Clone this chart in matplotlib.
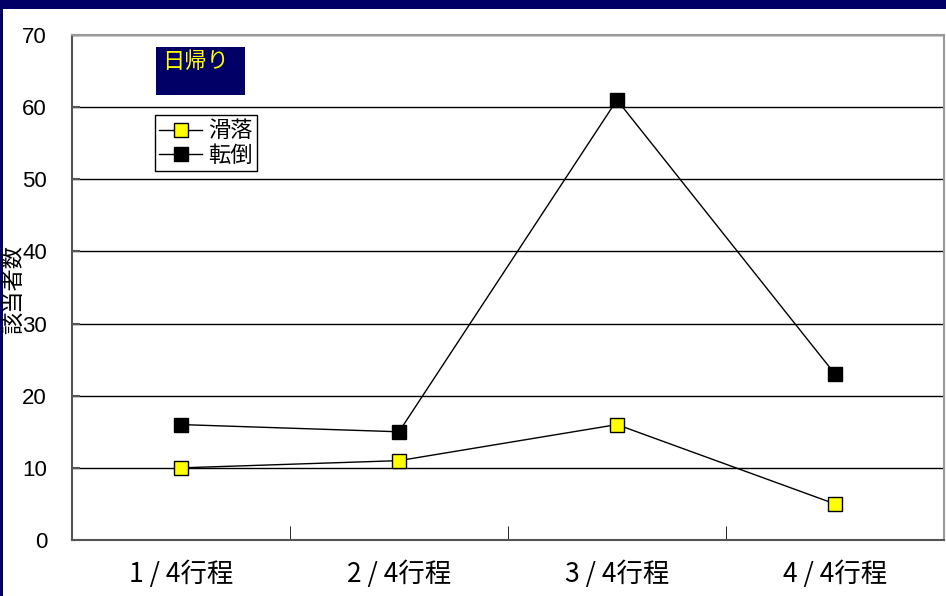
import matplotlib
matplotlib.use("Agg")
import matplotlib.pyplot as plt
from matplotlib.patches import Rectangle

plt.rcParams['font.family'] = ['Liberation Sans', 'Noto Sans CJK JP', 'DejaVu Sans']

categories = ["1 / 4行程", "2 / 4行程", "3 / 4行程", "4 / 4行程"]
slip = [10, 11, 16, 5]      # 滑落
fall = [16, 15, 61, 23]     # 転倒
y_ticks = [0, 10, 20, 30, 40, 50, 60, 70]

W, H = 946, 596
fig = plt.figure(figsize=(W / 100, H / 100), dpi=100)
fig.patch.set_facecolor("white")

# navy frame bands
navy = "#000066"
fig.patches.append(Rectangle((0, (H - 9) / H), 1, 9 / H, transform=fig.transFigure,
                             facecolor=navy, edgecolor="none", zorder=0))
fig.patches.append(Rectangle((0, 0), 3 / W, 1, transform=fig.transFigure,
                             facecolor=navy, edgecolor="none", zorder=0))

left, right, top, bottom = 72, 944, 35, 540
ax = fig.add_axes([left / W, (H - bottom) / H, (right - left) / W, (bottom - top) / H])

x = list(range(len(categories)))
ax.plot(x, fall, color="black", lw=1, marker="s", markersize=10,
        markerfacecolor="black", markeredgecolor="black", label="転倒", zorder=3)
ax.plot(x, slip, color="black", lw=1, marker="s", markersize=10,
        markerfacecolor="#FFFF00", markeredgecolor="black", label="滑落", zorder=3)

ax.set_xlim(-0.5, len(categories) - 0.5)
ax.set_ylim(0, 70)
ax.set_yticks(y_ticks)
ax.set_yticklabels([str(v) for v in y_ticks], fontsize=16)
ax.yaxis.grid(True, color="black", lw=1)
ax.set_axisbelow(True)

ax.set_xticks(x)
ax.set_xticklabels(categories, fontsize=19, family=['Noto Sans CJK JP', 'DejaVu Sans'])
ax.set_xticks([0.5, 1.5, 2.5], minor=True)
ax.tick_params(axis="x", which="major", length=0, pad=15)
ax.tick_params(axis="x", which="minor", direction="in", length=10, color="black")
ax.tick_params(axis="y", length=6, direction="in", pad=18, color="#555555", width=1.5)

for s in ["top", "right"]:
    ax.spines[s].set_color("#999999")
    ax.spines[s].set_linewidth(1.5)
for s in ["left", "bottom"]:
    ax.spines[s].set_color("#555555")
    ax.spines[s].set_linewidth(1.5)

fig.text(13 / W, 1 - 290 / H, "該当者数", rotation=90, ha="center", va="center",
         fontsize=16, family=['Noto Sans CJK JP', 'DejaVu Sans'])

# title box
fig.patches.append(Rectangle((156 / W, 1 - 95 / H), 89 / W, 48 / H, transform=fig.transFigure,
                             facecolor=navy, edgecolor="none", zorder=5))
fig.text(162 / W, 1 - 62 / H, "日帰り", color="#FFFF00", fontsize=16,
         family=['Noto Sans CJK JP', 'DejaVu Sans'], ha="left", va="center", zorder=6)

handles, labels = ax.get_legend_handles_labels()
leg = ax.legend(handles[::-1], labels[::-1], loc="upper left",
                bbox_to_anchor=((155 - left) / (right - left), (bottom - 115) / (bottom - top)),
                prop={'family': ['Noto Sans CJK JP', 'DejaVu Sans'], 'size': 16},
                frameon=True, fancybox=False, edgecolor="black", framealpha=1,
                borderpad=0.2, labelspacing=0.05, handlelength=1.9, handletextpad=0.3,
                borderaxespad=0)
leg.get_frame().set_linewidth(1)

fig.savefig("out.png", dpi=100)
